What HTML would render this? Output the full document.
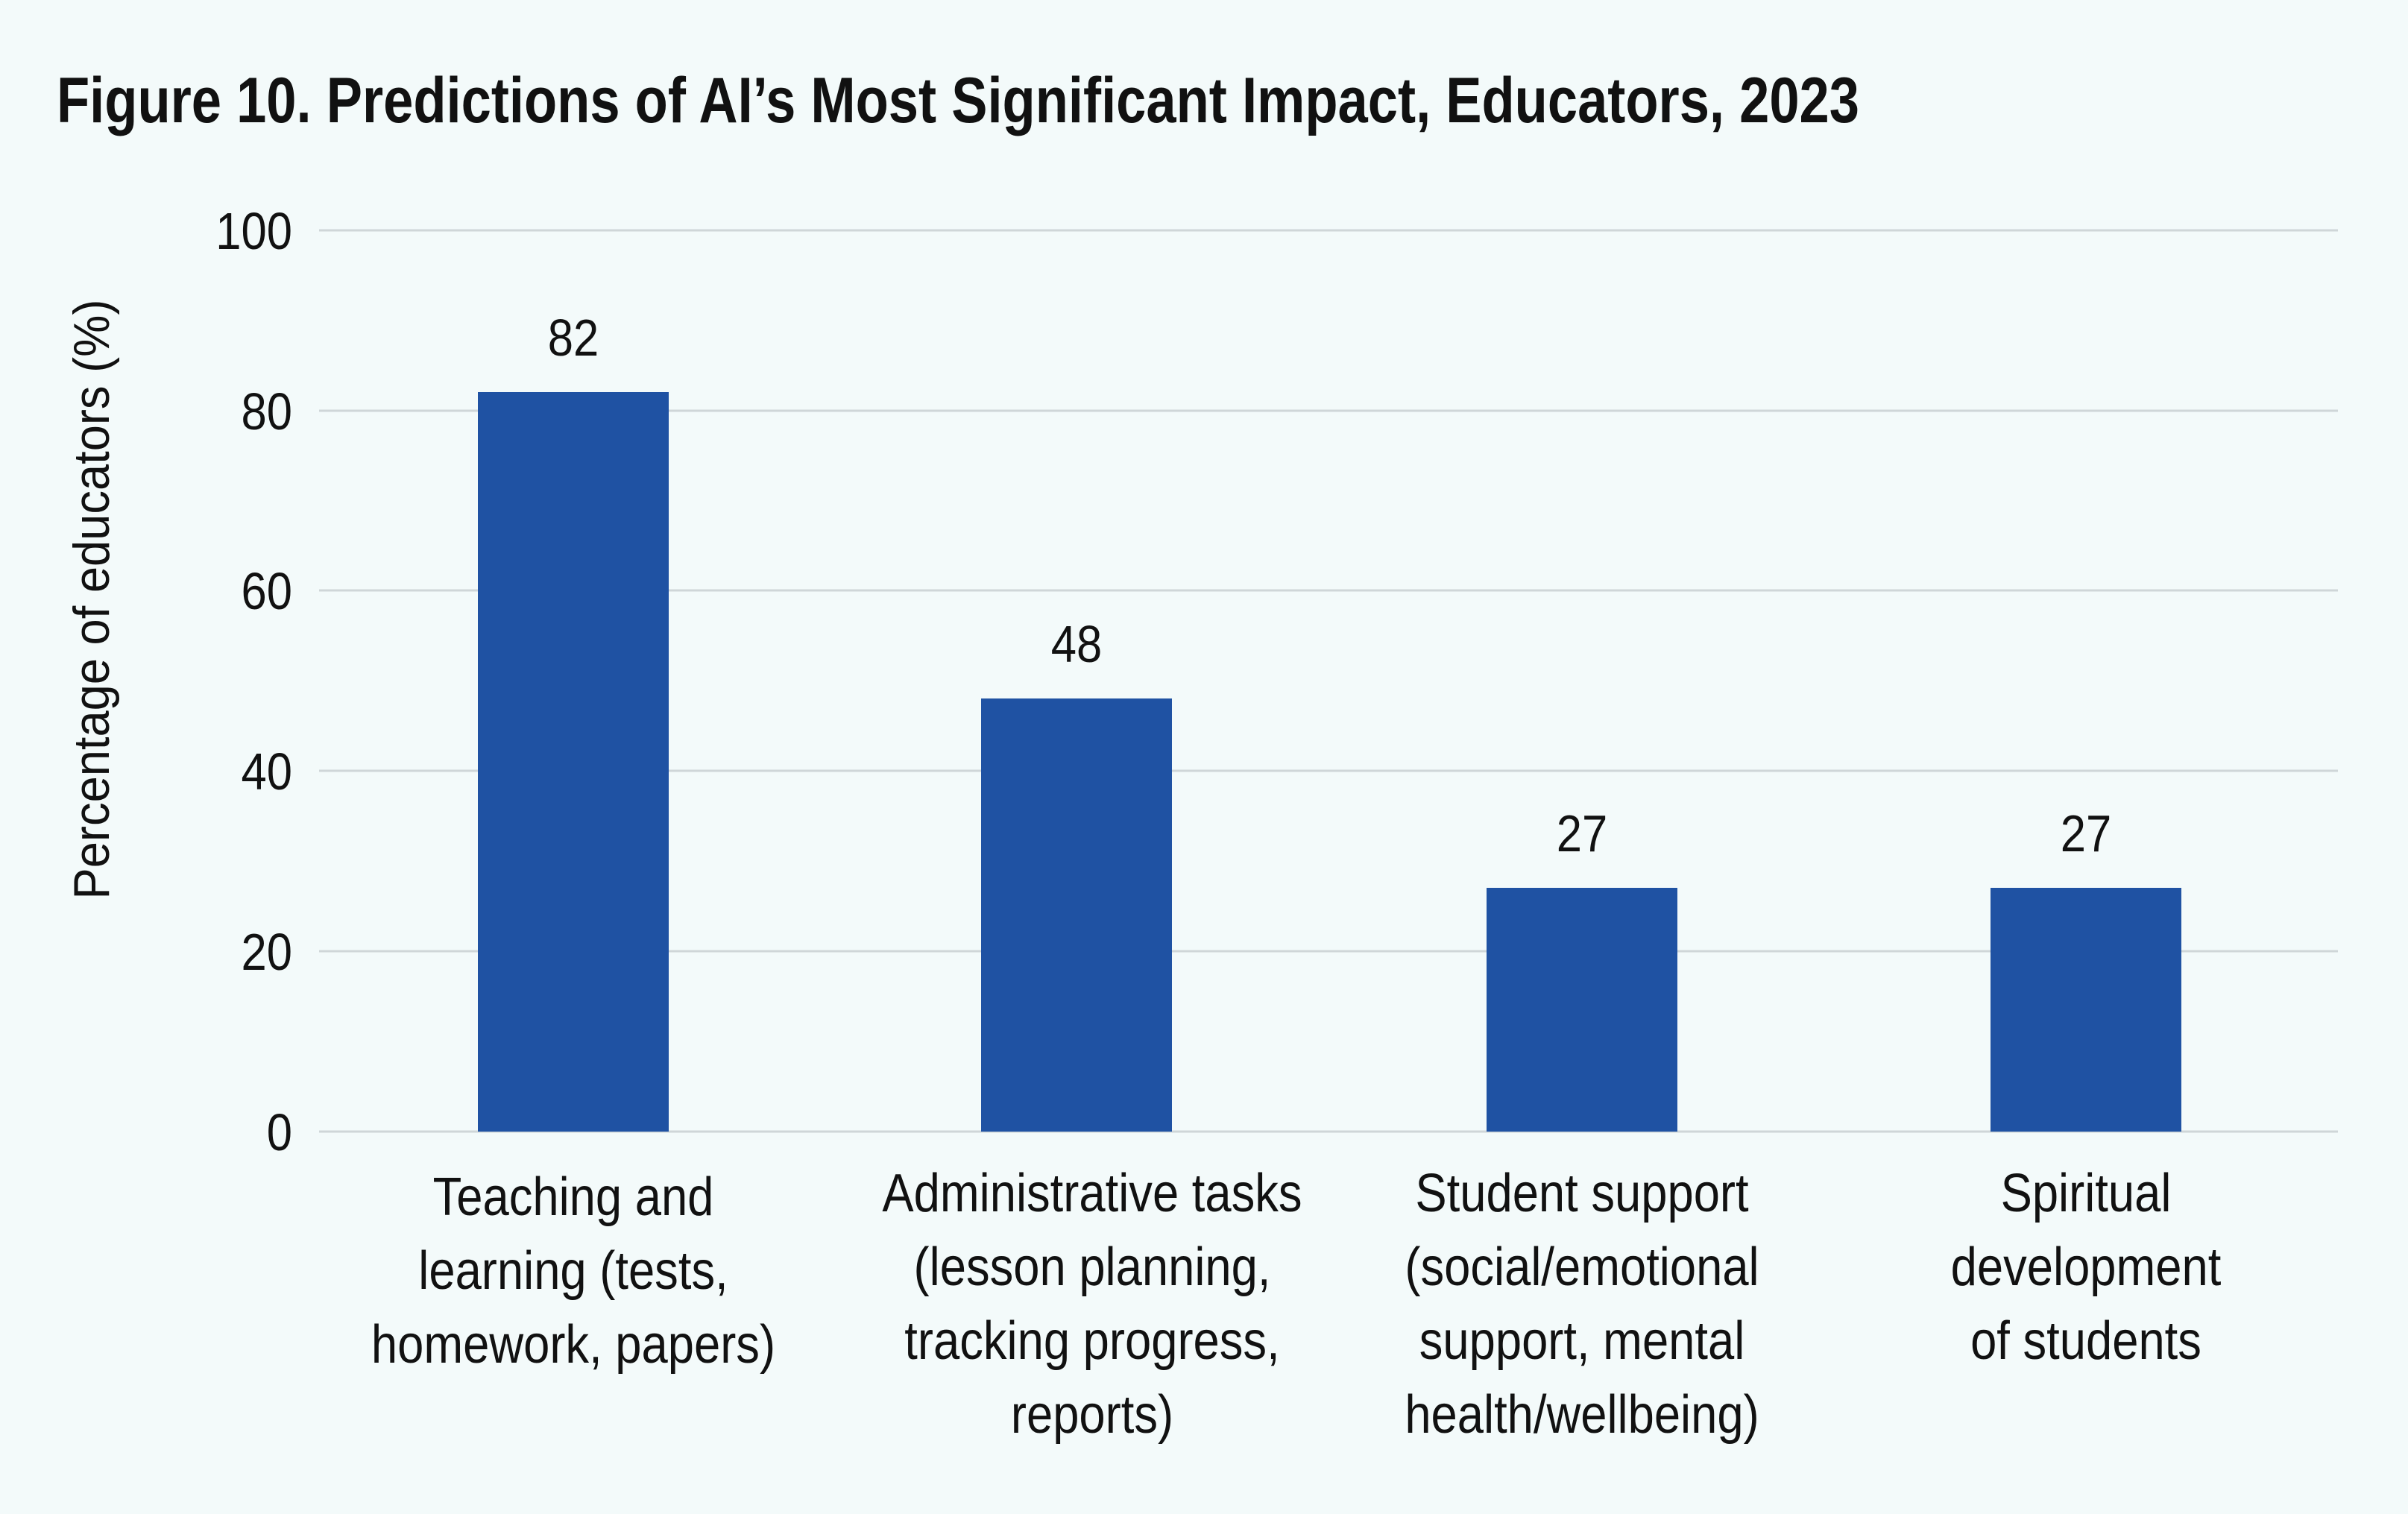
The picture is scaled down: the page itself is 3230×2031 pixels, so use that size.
<!DOCTYPE html>
<html><head><meta charset="utf-8"><style>
html,body{margin:0;padding:0;background:#f3fafa;}
svg{display:block}
text{font-family:"Liberation Sans Narrow","Liberation Sans",sans-serif;fill:#111;}
</style></head><body>
<svg width="3230" height="2031" viewBox="0 0 3230 2031" xmlns="http://www.w3.org/2000/svg">
<rect width="3230" height="2031" fill="#f3fafa"/>
<text x="76" y="164" font-size="86" font-weight="bold" textLength="2418" lengthAdjust="spacingAndGlyphs">Figure 10. Predictions of AI’s Most Significant Impact, Educators, 2023</text>
<g stroke="#cfd6d8" stroke-width="3">
<line x1="428" x2="3136" y1="309" y2="309"/>
<line x1="428" x2="3136" y1="551" y2="551"/>
<line x1="428" x2="3136" y1="792" y2="792"/>
<line x1="428" x2="3136" y1="1034" y2="1034"/>
<line x1="428" x2="3136" y1="1276" y2="1276"/>
<line x1="428" x2="3136" y1="1518" y2="1518"/>
</g>
<g font-size="70" text-anchor="end">
<text transform="translate(392,334) scale(0.88,1)">100</text>
<text transform="translate(392,576) scale(0.88,1)">80</text>
<text transform="translate(392,817) scale(0.88,1)">60</text>
<text transform="translate(392,1059) scale(0.88,1)">40</text>
<text transform="translate(392,1301) scale(0.88,1)">20</text>
<text transform="translate(392,1543) scale(0.88,1)">0</text>
</g>
<text transform="translate(146,804) rotate(-90) scale(0.93,1)" font-size="68" text-anchor="middle">Percentage of educators (%)</text>
<g fill="#1f52a3">
<rect x="641" y="526" width="256" height="992"/>
<rect x="1316" y="937" width="256" height="581"/>
<rect x="1994" y="1191" width="256" height="327"/>
<rect x="2670" y="1191" width="256" height="327"/>
</g>
<g font-size="70" text-anchor="middle">
<text transform="translate(769,477) scale(0.88,1)">82</text>
<text transform="translate(1444,888) scale(0.88,1)">48</text>
<text transform="translate(2122,1142) scale(0.88,1)">27</text>
<text transform="translate(2798,1142) scale(0.88,1)">27</text>
</g>
<g font-size="72" text-anchor="middle">
<text transform="translate(769,1630) scale(0.88,1)">Teaching and</text>
<text transform="translate(769,1729) scale(0.88,1)">learning (tests,</text>
<text transform="translate(769,1828) scale(0.88,1)">homework, papers)</text>
<text transform="translate(1465,1625) scale(0.88,1)">Administrative tasks</text>
<text transform="translate(1465,1724) scale(0.88,1)">(lesson planning,</text>
<text transform="translate(1465,1823) scale(0.88,1)">tracking progress,</text>
<text transform="translate(1465,1922) scale(0.88,1)">reports)</text>
<text transform="translate(2122,1625) scale(0.88,1)">Student support</text>
<text transform="translate(2122,1724) scale(0.88,1)">(social/emotional</text>
<text transform="translate(2122,1823) scale(0.88,1)">support, mental</text>
<text transform="translate(2122,1922) scale(0.88,1)">health/wellbeing)</text>
<text transform="translate(2798,1625) scale(0.88,1)">Spiritual</text>
<text transform="translate(2798,1724) scale(0.88,1)">development</text>
<text transform="translate(2798,1823) scale(0.88,1)">of students</text>
</g>
</svg>
</body></html>
